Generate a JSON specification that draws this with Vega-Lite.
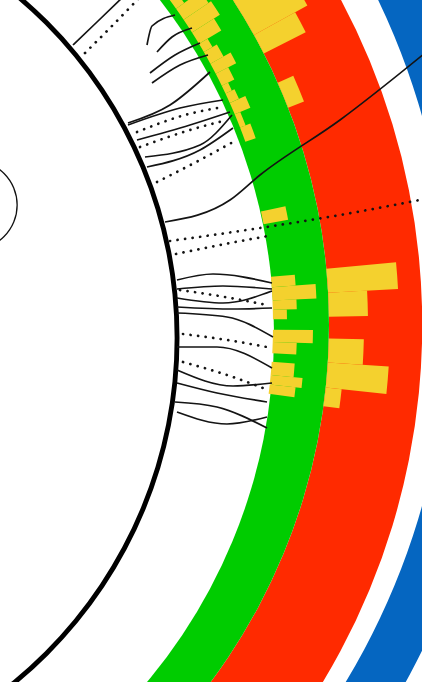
{
  "$schema": "https://vega.github.io/schema/vega-lite/v6.json",
  "width": 422,
  "height": 682,
  "padding": 0,
  "autosize": {"type": "none"},
  "background": "white",
  "config": {"view": {"stroke": null}},
  "datasets": {
    "arcs": [
      {"track": "track3", "cx": 0, "cy": 14, "t0": 0, "t1": 360, "r0": 718, "r1": 770},
      {"track": "track2", "cx": 0, "cy": 0, "t0": 0, "t1": 360, "r0": 598, "r1": 691},
      {"track": "track1", "cx": 0, "cy": 0, "t0": 0, "t1": 360, "r0": 0, "r1": 598},
      {"track": "blank", "cx": 0, "cy": -8, "t0": 0, "t1": 360, "r0": 0, "r1": 543},
      {"track": "ideogram", "cx": 0, "cy": -13, "t0": 0, "t1": 360, "r0": 443.5, "r1": 448.5},
      {"track": "marker", "cx": 241.5, "cy": 120, "t0": 0, "t1": 360, "r0": 44, "r1": 45.3},
      {"track": "hist", "cx": 0, "cy": 0, "t0": 53.0, "t1": 54.6, "r0": 546, "r1": 556},
      {"track": "hist", "cx": 0, "cy": 0, "t0": 54.6, "t1": 56.0, "r0": 546, "r1": 576},
      {"track": "hist", "cx": 0, "cy": 0, "t0": 56.0, "t1": 57.6, "r0": 546, "r1": 579},
      {"track": "hist", "cx": 0, "cy": 0, "t0": 57.6, "t1": 59.0, "r0": 546, "r1": 572},
      {"track": "hist", "cx": 0, "cy": 0, "t0": 59.0, "t1": 60.0, "r0": 546, "r1": 556},
      {"track": "hist", "cx": 0, "cy": 0, "t0": 60.0, "t1": 61.4, "r0": 546, "r1": 561},
      {"track": "hist", "cx": 0, "cy": 0, "t0": 61.4, "t1": 62.6, "r0": 546, "r1": 569},
      {"track": "hist", "cx": 0, "cy": 0, "t0": 62.6, "t1": 64.0, "r0": 546, "r1": 560},
      {"track": "hist", "cx": 0, "cy": 0, "t0": 64.0, "t1": 64.9, "r0": 546, "r1": 553},
      {"track": "hist", "cx": 0, "cy": 0, "t0": 64.9, "t1": 66.0, "r0": 546, "r1": 556},
      {"track": "hist", "cx": 0, "cy": 0, "t0": 66.0, "t1": 67.3, "r0": 546, "r1": 563},
      {"track": "hist", "cx": 0, "cy": 0, "t0": 67.3, "t1": 68.8, "r0": 546, "r1": 552},
      {"track": "hist", "cx": 0, "cy": 0, "t0": 68.8, "t1": 70.4, "r0": 546, "r1": 557},
      {"track": "hist", "cx": 0, "cy": 0, "t0": 77.9, "t1": 79.3, "r0": 542, "r1": 567},
      {"track": "hist", "cx": 0, "cy": 0, "t0": 84.9, "t1": 86.0, "r0": 542, "r1": 566},
      {"track": "hist", "cx": 0, "cy": 0, "t0": 86.0, "t1": 87.4, "r0": 542, "r1": 586},
      {"track": "hist", "cx": 0, "cy": 0, "t0": 87.4, "t1": 88.4, "r0": 542, "r1": 566},
      {"track": "hist", "cx": 0, "cy": 0, "t0": 88.4, "t1": 89.4, "r0": 542, "r1": 556},
      {"track": "hist", "cx": 0, "cy": 0, "t0": 90.5, "t1": 91.8, "r0": 542, "r1": 582},
      {"track": "hist", "cx": 0, "cy": 0, "t0": 91.8, "t1": 93.0, "r0": 542, "r1": 566},
      {"track": "hist", "cx": 0, "cy": 0, "t0": 93.9, "t1": 95.3, "r0": 542, "r1": 565},
      {"track": "hist", "cx": 0, "cy": 0, "t0": 95.3, "t1": 96.3, "r0": 542, "r1": 574},
      {"track": "hist", "cx": 0, "cy": 0, "t0": 96.3, "t1": 97.3, "r0": 542, "r1": 568},
      {"track": "hist", "cx": 0, "cy": 0, "t0": 55.0, "t1": 61.0, "r0": 598, "r1": 659},
      {"track": "hist", "cx": 0, "cy": 0, "t0": 61.0, "t1": 63.0, "r0": 598, "r1": 645},
      {"track": "hist", "cx": 0, "cy": 0, "t0": 66.1, "t1": 68.7, "r0": 598, "r1": 615},
      {"track": "hist", "cx": 0, "cy": 0, "t0": 84.6, "t1": 86.9, "r0": 598, "r1": 668},
      {"track": "hist", "cx": 0, "cy": 0, "t0": 86.9, "t1": 89.2, "r0": 598, "r1": 637},
      {"track": "hist", "cx": 0, "cy": 0, "t0": 91.3, "t1": 93.6, "r0": 598, "r1": 633},
      {"track": "hist", "cx": 0, "cy": 0, "t0": 93.6, "t1": 96.0, "r0": 598, "r1": 659},
      {"track": "hist", "cx": 0, "cy": 0, "t0": 96.0, "t1": 97.8, "r0": 598, "r1": 614}
    ],
    "links": [
      {"id": "L1", "style": "solid", "o": 1, "x": 342, "y": 280},
      {"id": "L1", "style": "solid", "o": 2, "x": 366, "y": 303},
      {"id": "L1", "style": "solid", "o": 3, "x": 394, "y": 330},
      {"id": "L2", "style": "dotted", "o": 1, "x": 354, "y": 272},
      {"id": "L2", "style": "dotted", "o": 2, "x": 380, "y": 298},
      {"id": "L2", "style": "dotted", "o": 3, "x": 411, "y": 330},
      {"id": "L3", "style": "solid", "o": 1, "x": 416, "y": 280},
      {"id": "L3", "style": "solid", "o": 2, "x": 421, "y": 299},
      {"id": "L3", "style": "solid", "o": 3, "x": 444, "y": 310},
      {"id": "L4", "style": "solid", "o": 1, "x": 426, "y": 273},
      {"id": "L4", "style": "solid", "o": 2, "x": 441, "y": 288},
      {"id": "L4", "style": "solid", "o": 3, "x": 461, "y": 297},
      {"id": "L5", "style": "solid", "o": 1, "x": 419, "y": 252},
      {"id": "L5", "style": "solid", "o": 2, "x": 444, "y": 270},
      {"id": "L5", "style": "solid", "o": 3, "x": 469, "y": 282},
      {"id": "L6", "style": "solid", "o": 1, "x": 421, "y": 242},
      {"id": "L6", "style": "solid", "o": 2, "x": 449, "y": 260},
      {"id": "L6", "style": "solid", "o": 3, "x": 477, "y": 270},
      {"id": "L7", "style": "solid", "o": 1, "x": 397, "y": 202},
      {"id": "L7", "style": "solid", "o": 2, "x": 439, "y": 220},
      {"id": "L7", "style": "solid", "o": 3, "x": 479, "y": 253},
      {"id": "L8", "style": "solid", "o": 1, "x": 397, "y": 200},
      {"id": "L8", "style": "solid", "o": 2, "x": 449, "y": 217},
      {"id": "L8", "style": "solid", "o": 3, "x": 492, "y": 225},
      {"id": "L9", "style": "dotted", "o": 1, "x": 406, "y": 193},
      {"id": "L9", "style": "dotted", "o": 2, "x": 454, "y": 210},
      {"id": "L9", "style": "dotted", "o": 3, "x": 492, "y": 218},
      {"id": "L10", "style": "solid", "o": 1, "x": 406, "y": 185},
      {"id": "L10", "style": "solid", "o": 2, "x": 459, "y": 200},
      {"id": "L10", "style": "solid", "o": 3, "x": 499, "y": 213},
      {"id": "L11", "style": "dotted", "o": 1, "x": 409, "y": 178},
      {"id": "L11", "style": "dotted", "o": 2, "x": 459, "y": 195},
      {"id": "L11", "style": "dotted", "o": 3, "x": 496, "y": 205},
      {"id": "L12", "style": "solid", "o": 1, "x": 414, "y": 168},
      {"id": "L12", "style": "solid", "o": 2, "x": 469, "y": 180},
      {"id": "L12", "style": "solid", "o": 3, "x": 501, "y": 210},
      {"id": "L13", "style": "solid", "o": 1, "x": 416, "y": 158},
      {"id": "L13", "style": "solid", "o": 2, "x": 469, "y": 175},
      {"id": "L13", "style": "solid", "o": 3, "x": 502, "y": 197},
      {"id": "L14", "style": "dotted", "o": 1, "x": 426, "y": 143},
      {"id": "L14", "style": "dotted", "o": 2, "x": 469, "y": 165},
      {"id": "L14", "style": "dotted", "o": 3, "x": 502, "y": 183},
      {"id": "L15", "style": "solid", "o": 1, "x": 434, "y": 103},
      {"id": "L15", "style": "solid", "o": 2, "x": 499, "y": 125},
      {"id": "L15", "style": "solid", "o": 3, "x": 529, "y": 150},
      {"id": "L15", "style": "solid", "o": 4, "x": 609, "y": 205},
      {"id": "L15", "style": "solid", "o": 5, "x": 699, "y": 276},
      {"id": "L16", "style": "dotted", "o": 1, "x": 439, "y": 84},
      {"id": "L16", "style": "dotted", "o": 2, "x": 529, "y": 97},
      {"id": "L16", "style": "dotted", "o": 3, "x": 609, "y": 110},
      {"id": "L16", "style": "dotted", "o": 4, "x": 694, "y": 126},
      {"id": "L17", "style": "dotted", "o": 1, "x": 445, "y": 71},
      {"id": "L17", "style": "dotted", "o": 2, "x": 494, "y": 81},
      {"id": "L17", "style": "dotted", "o": 3, "x": 537, "y": 89},
      {"id": "M1", "style": "solid", "o": 1, "x": 446, "y": 45},
      {"id": "M1", "style": "solid", "o": 2, "x": 482, "y": 51},
      {"id": "M1", "style": "solid", "o": 3, "x": 541, "y": 42},
      {"id": "M2", "style": "solid", "o": 1, "x": 446, "y": 36},
      {"id": "M2", "style": "solid", "o": 2, "x": 492, "y": 39},
      {"id": "M2", "style": "solid", "o": 3, "x": 541, "y": 36},
      {"id": "M3", "style": "dotted", "o": 1, "x": 449, "y": 35},
      {"id": "M3", "style": "dotted", "o": 2, "x": 494, "y": 28},
      {"id": "M3", "style": "dotted", "o": 3, "x": 536, "y": 20},
      {"id": "M4", "style": "solid", "o": 1, "x": 446, "y": 27},
      {"id": "M4", "style": "solid", "o": 2, "x": 492, "y": 22},
      {"id": "M4", "style": "solid", "o": 3, "x": 541, "y": 34},
      {"id": "M5", "style": "solid", "o": 1, "x": 446, "y": 18},
      {"id": "M5", "style": "solid", "o": 2, "x": 502, "y": 16},
      {"id": "M5", "style": "solid", "o": 3, "x": 541, "y": 17},
      {"id": "M6", "style": "solid", "o": 1, "x": 446, "y": 12},
      {"id": "M6", "style": "solid", "o": 2, "x": 496, "y": 8},
      {"id": "M6", "style": "solid", "o": 3, "x": 542, "y": -12},
      {"id": "M7", "style": "dotted", "o": 1, "x": 452, "y": -9},
      {"id": "M7", "style": "dotted", "o": 2, "x": 496, "y": -15},
      {"id": "M7", "style": "dotted", "o": 3, "x": 536, "y": -22},
      {"id": "M8", "style": "solid", "o": 1, "x": 446, "y": -22},
      {"id": "M8", "style": "solid", "o": 2, "x": 486, "y": -22},
      {"id": "M8", "style": "solid", "o": 3, "x": 541, "y": -43},
      {"id": "M9", "style": "dotted", "o": 1, "x": 452, "y": -37},
      {"id": "M9", "style": "dotted", "o": 2, "x": 502, "y": -52},
      {"id": "M9", "style": "dotted", "o": 3, "x": 532, "y": -63},
      {"id": "M10", "style": "solid", "o": 1, "x": 446, "y": -45},
      {"id": "M10", "style": "solid", "o": 2, "x": 502, "y": -61},
      {"id": "M10", "style": "solid", "o": 3, "x": 541, "y": -58},
      {"id": "M11", "style": "solid", "o": 1, "x": 446, "y": -58},
      {"id": "M11", "style": "solid", "o": 2, "x": 486, "y": -68},
      {"id": "M11", "style": "solid", "o": 3, "x": 536, "y": -77},
      {"id": "M12", "style": "solid", "o": 1, "x": 444, "y": -77},
      {"id": "M12", "style": "solid", "o": 2, "x": 486, "y": -82},
      {"id": "M12", "style": "solid", "o": 3, "x": 536, "y": -103},
      {"id": "M13", "style": "solid", "o": 1, "x": 446, "y": -87},
      {"id": "M13", "style": "solid", "o": 2, "x": 496, "y": -99},
      {"id": "M13", "style": "solid", "o": 3, "x": 536, "y": -92}
    ]
  },
  "layer": [
    {
      "data": {"name": "arcs"},
      "mark": {"type": "arc", "clip": true},
      "encoding": {
        "x": {"field": "cx", "type": "quantitative", "scale": {"domain": [269, 691], "nice": false, "zero": false}, "axis": null},
        "y": {"field": "cy", "type": "quantitative", "scale": {"domain": [-357, 325], "nice": false, "zero": false}, "axis": null},
        "theta": {"field": "t0", "type": "quantitative", "stack": null, "scale": {"domain": [0, 360], "range": [0, 6.283185307179586]}},
        "theta2": {"field": "t1"},
        "radius": {"field": "r1", "type": "quantitative", "scale": {"type": "linear", "domain": [0, 1000], "range": [0, 1000]}},
        "radius2": {"field": "r0"},
        "color": {
          "field": "track",
          "type": "nominal",
          "scale": {
            "domain": ["track1", "track2", "track3", "blank", "ideogram", "marker", "hist"],
            "range": ["#00cc00", "#ff2a00", "#0566c1", "#ffffff", "#000000", "#111111", "#f4d12e"]
          },
          "legend": null
        }
      }
    },
    {
      "data": {"name": "links"},
      "transform": [{"filter": "datum.style === 'solid'"}],
      "mark": {"type": "line", "interpolate": "monotone", "clip": true, "color": "#141414", "strokeWidth": 1.7},
      "encoding": {
        "x": {"field": "x", "type": "quantitative", "scale": {"domain": [269, 691], "nice": false, "zero": false}, "axis": null},
        "y": {"field": "y", "type": "quantitative", "scale": {"domain": [-357, 325], "nice": false, "zero": false}, "axis": null},
        "detail": {"field": "id"},
        "order": {"field": "o", "type": "quantitative"}
      }
    },
    {
      "data": {"name": "links"},
      "transform": [{"filter": "datum.style === 'dotted'"}],
      "mark": {"type": "line", "interpolate": "monotone", "clip": true, "color": "#141414", "strokeWidth": 2.7, "strokeDash": [0.1, 7.5], "strokeCap": "round"},
      "encoding": {
        "x": {"field": "x", "type": "quantitative", "scale": {"domain": [269, 691], "nice": false, "zero": false}, "axis": null},
        "y": {"field": "y", "type": "quantitative", "scale": {"domain": [-357, 325], "nice": false, "zero": false}, "axis": null},
        "detail": {"field": "id"},
        "order": {"field": "o", "type": "quantitative"}
      }
    }
  ]
}
